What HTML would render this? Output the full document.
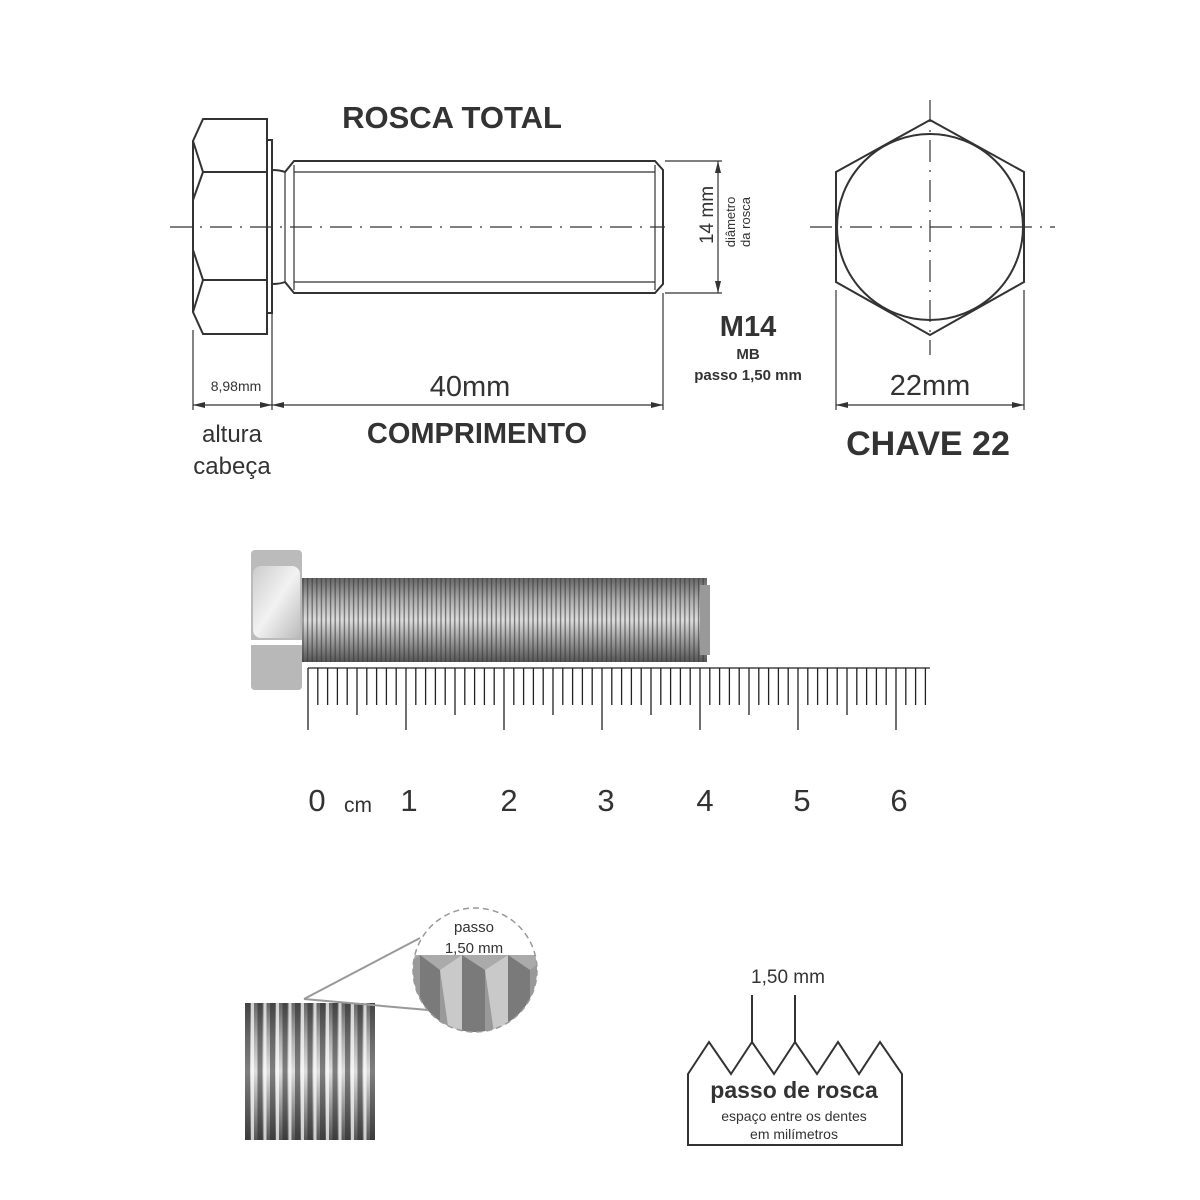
<!DOCTYPE html>
<html><head><meta charset="utf-8"><style>
html,body{margin:0;padding:0;background:#fff}
svg{display:block}
text{font-family:"Liberation Sans",Arial,sans-serif;fill:#333}
</style></head><body>
<svg width="1200" height="1200" viewBox="0 0 1200 1200" xmlns="http://www.w3.org/2000/svg">
<defs>
<linearGradient id="body" x1="0" y1="0" x2="0" y2="1">
<stop offset="0" stop-color="#666"/><stop offset="0.25" stop-color="#aaa"/><stop offset="0.5" stop-color="#ddd"/><stop offset="0.75" stop-color="#999"/><stop offset="1" stop-color="#555"/>
</linearGradient>
<linearGradient id="head" x1="0" y1="0" x2="1" y2="1">
<stop offset="0" stop-color="#ccc"/><stop offset="0.5" stop-color="#f2f2f2"/><stop offset="1" stop-color="#bbb"/>
</linearGradient>
<pattern id="thr" x="302" y="0" width="4.6" height="10" patternUnits="userSpaceOnUse">
<rect width="4.6" height="10" fill="none"/><line x1="1" y1="0" x2="1" y2="10" stroke="#333" stroke-width="1.3" opacity="0.6"/>
</pattern>
<pattern id="thr2" x="245" y="0" width="12.5" height="10" patternUnits="userSpaceOnUse">
<rect x="0" width="5" height="10" fill="#222" opacity="0.5"/><rect x="6" width="3" height="10" fill="#fff" opacity="0.7"/>
</pattern>
<clipPath id="circ"><circle cx="475" cy="970" r="62"/></clipPath>
</defs>

<!-- TOP DRAWING -->
<text x="452" y="128" font-size="31" font-weight="bold" text-anchor="middle">ROSCA TOTAL</text>
<g fill="none" stroke="#333" stroke-width="2">
<path d="M203,119 L267,119 L267,334 L203,334 L193,312 L193,141 Z"/>
<path d="M193,141 L203,172 L267,172 M203,172 L193,200 L193,250 L203,280 L267,280 M203,280 L193,312"/>
<rect x="267" y="140" width="5" height="173"/>
<path d="M272,170 Q280,170 285,172 L294,161 L655,161 L663,170 L663,284 L655,293 L294,293 L285,282 Q280,284 272,284"/>
</g>
<g stroke="#333" stroke-width="1.2" fill="none">
<line x1="294" y1="172" x2="655" y2="172"/><line x1="294" y1="282" x2="655" y2="282"/>
<line x1="294" y1="165" x2="294" y2="290"/><line x1="655" y1="165" x2="655" y2="290"/>
<line x1="285" y1="172" x2="285" y2="282"/>
<line x1="170" y1="227" x2="665" y2="227" stroke-dasharray="22,8,2,8"/>
<line x1="193" y1="330" x2="193" y2="410"/><line x1="272" y1="313" x2="272" y2="410"/><line x1="663" y1="293" x2="663" y2="410"/>
<line x1="193" y1="405" x2="272" y2="405"/><line x1="272" y1="405" x2="663" y2="405"/>
<line x1="665" y1="161" x2="722" y2="161"/><line x1="665" y1="293" x2="722" y2="293"/>
<line x1="718" y1="161" x2="718" y2="293"/>
</g>
<g fill="#333">
<path d="M193,405 l12,-3 v6z M272,405 l-12,-3 v6z M272,405 l12,-3 v6z M663,405 l-12,-3 v6z"/>
<path d="M718,161 l-3,12 h6z M718,293 l-3,-12 h6z"/>
</g>
<text x="236" y="391" font-size="14" text-anchor="middle">8,98mm</text>
<text x="470" y="396" font-size="29" text-anchor="middle">40mm</text>
<text x="232" y="442" font-size="24" text-anchor="middle">altura</text>
<text x="232" y="474" font-size="24" text-anchor="middle">cabeça</text>
<text x="477" y="443" font-size="29" font-weight="bold" text-anchor="middle">COMPRIMENTO</text>
<text transform="translate(713,215) rotate(-90)" font-size="19" text-anchor="middle">14 mm</text>
<text transform="translate(735,222) rotate(-90)" font-size="13" text-anchor="middle">diâmetro</text>
<text transform="translate(750,222) rotate(-90)" font-size="13" text-anchor="middle">da rosca</text>
<text x="748" y="336" font-size="29" font-weight="bold" text-anchor="middle">M14</text>
<text x="748" y="359" font-size="15" font-weight="bold" text-anchor="middle">MB</text>
<text x="748" y="380" font-size="15" font-weight="bold" text-anchor="middle">passo 1,50 mm</text>

<!-- HEX -->
<g fill="none" stroke="#333" stroke-width="2">
<polygon points="930,120 1024,172 1024,282 930,335 836,282 836,172"/>
<circle cx="930" cy="227" r="93"/>
</g>
<g stroke="#333" stroke-width="1.2">
<line x1="810" y1="227" x2="1055" y2="227" stroke-dasharray="22,8,2,8"/>
<line x1="930" y1="100" x2="930" y2="355" stroke-dasharray="22,8,2,8"/>
<line x1="836" y1="290" x2="836" y2="410"/><line x1="1024" y1="290" x2="1024" y2="410"/>
<line x1="836" y1="405" x2="1024" y2="405"/>
</g>
<path d="M836,405 l12,-3 v6z M1024,405 l-12,-3 v6z" fill="#333"/>
<text x="930" y="395" font-size="29" text-anchor="middle">22mm</text>
<text x="928" y="455" font-size="34" font-weight="bold" text-anchor="middle">CHAVE 22</text>

<!-- PHOTO BOLT -->
<rect x="251" y="550" width="51" height="140" rx="4" fill="#bbb"/>
<rect x="253" y="566" width="47" height="72" rx="8" fill="url(#head)"/>
<rect x="251" y="640" width="51" height="5" fill="#fff"/>
<rect x="251" y="645" width="51" height="45" rx="4" fill="#b8b8b8"/>
<rect x="302" y="578" width="405" height="84" fill="url(#body)"/>
<rect x="302" y="578" width="405" height="84" fill="url(#thr)"/>
<rect x="700" y="585" width="10" height="70" fill="#999"/>

<!-- RULER -->
<g stroke="#222" stroke-width="1.3">
<line x1="308" y1="668" x2="930" y2="668"/>
<path d="
M308,668V730 M317.8,668V705 M327.6,668V705 M337.4,668V705 M347.2,668V705 M357,668V715 M366.8,668V705 M376.6,668V705 M386.4,668V705 M396.2,668V705
M406,668V730 M415.8,668V705 M425.6,668V705 M435.4,668V705 M445.2,668V705 M455,668V715 M464.8,668V705 M474.6,668V705 M484.4,668V705 M494.2,668V705
M504,668V730 M513.8,668V705 M523.6,668V705 M533.4,668V705 M543.2,668V705 M553,668V715 M562.8,668V705 M572.6,668V705 M582.4,668V705 M592.2,668V705
M602,668V730 M611.8,668V705 M621.6,668V705 M631.4,668V705 M641.2,668V705 M651,668V715 M660.8,668V705 M670.6,668V705 M680.4,668V705 M690.2,668V705
M700,668V730 M709.8,668V705 M719.6,668V705 M729.4,668V705 M739.2,668V705 M749,668V715 M758.8,668V705 M768.6,668V705 M778.4,668V705 M788.2,668V705
M798,668V730 M807.8,668V705 M817.6,668V705 M827.4,668V705 M837.2,668V705 M847,668V715 M856.8,668V705 M866.6,668V705 M876.4,668V705 M886.2,668V705
M896,668V730 M905.8,668V705 M915.6,668V705 M925.4,668V705"/>
</g>
<g font-size="31" text-anchor="middle">
<text x="317" y="811">0</text><text x="409" y="811">1</text><text x="509" y="811">2</text><text x="606" y="811">3</text>
<text x="705" y="811">4</text><text x="802" y="811">5</text><text x="899" y="811">6</text>
</g>
<text x="358" y="812" font-size="21" text-anchor="middle">cm</text>

<!-- SMALL THREAD -->
<rect x="245" y="1003" width="130" height="137" fill="url(#body)"/>
<rect x="245" y="1003" width="130" height="137" fill="url(#thr2)"/>
<line x1="304" y1="999" x2="420" y2="938" stroke="#999" stroke-width="2"/>
<line x1="304" y1="999" x2="428" y2="1010" stroke="#999" stroke-width="2"/>
<circle cx="475" cy="970" r="62" fill="#fff"/>
<g clip-path="url(#circ)">
<rect x="410" y="955" width="130" height="85" fill="#aaa"/>
<path d="M410,962 L420,955 L440,970 L462,955 L485,970 L508,955 L530,970 L545,958 V1040 H410Z" fill="#999"/>
<path d="M420,955 L440,970 L440,1040 L420,1040Z M462,955 L485,970 L485,1040 L462,1040Z M508,955 L530,970 L530,1040 L508,1040Z" fill="#666" opacity="0.6"/>
<path d="M440,970 L462,955 V1040 H450Z M485,970 L508,955 V1040 H495Z" fill="#ddd" opacity="0.7"/>
</g>
<circle cx="475" cy="970" r="62" fill="none" stroke="#999" stroke-width="1.5" stroke-dasharray="6,4"/>
<text x="474" y="932" font-size="15" text-anchor="middle">passo</text>
<text x="474" y="953" font-size="15" text-anchor="middle">1,50 mm</text>

<!-- PROFILE -->
<text x="788" y="983" font-size="19" text-anchor="middle">1,50 mm</text>
<g stroke="#333" stroke-width="2" fill="none">
<line x1="752" y1="995" x2="752" y2="1042"/><line x1="795" y1="995" x2="795" y2="1042"/>
<path d="M688,1145 V1074 L709,1042 L731,1074 L752,1042 L774,1074 L795,1042 L817,1074 L838,1042 L859,1074 L880,1042 L902,1074 V1145 Z"/>
</g>
<text x="794" y="1098" font-size="23" font-weight="bold" text-anchor="middle">passo de rosca</text>
<text x="794" y="1121" font-size="14" text-anchor="middle">espaço entre os dentes</text>
<text x="794" y="1139" font-size="14" text-anchor="middle">em milímetros</text>
</svg>
</body></html>
